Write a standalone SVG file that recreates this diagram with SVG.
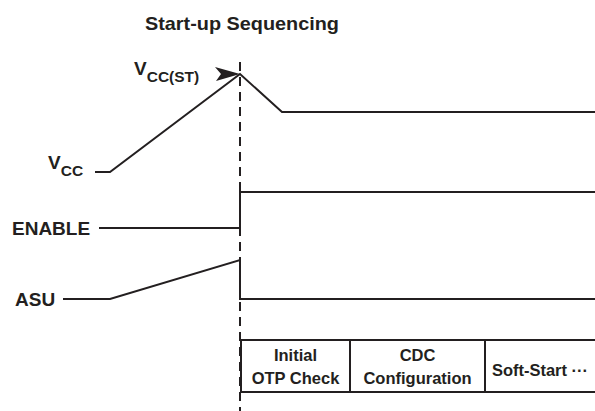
<svg xmlns="http://www.w3.org/2000/svg" width="595" height="411" viewBox="0 0 595 411">
<defs>
<style>
.t{font-family:"Liberation Sans",Arial,sans-serif;font-weight:bold;fill:#231f20}
.lbl{font-size:19px}
.sub{font-size:15.5px}
.box{font-size:16.5px;text-anchor:middle}
.w{fill:none;stroke:#231f20;stroke-width:2;stroke-linejoin:miter}
.d{fill:none;stroke:#231f20;stroke-width:2;stroke-dasharray:9 6}
</style>
</defs>
<rect width="595" height="411" fill="#fff"/>
<g id="title"><text class="t" x="145" y="30" font-size="19" textLength="194" lengthAdjust="spacingAndGlyphs">Start-up Sequencing</text></g>
<g id="connectors">
<line id="marker-line" class="d" x1="240" y1="62" x2="240" y2="411"/>
<polyline id="vcc-wave" class="w" points="95,172 110,172 240,74 282,112 595,112"/>
<polyline id="enable-wave" class="w" points="99,228 240,228 240,192 595,192"/>
<polyline id="asu-wave" class="w" points="63,299 110,299 240,260 240,299 595,299"/>
<path id="vccst-arrow" d="M240,74 L215,67 L221,74 L216,81 Z" fill="#231f20"/>
</g>
<g id="vcc-st-label"><text class="t lbl" x="134" y="75">V<tspan class="sub" dy="7">CC(ST)</tspan></text></g>
<g id="vcc-label"><text class="t lbl" x="48" y="169">V<tspan class="sub" dy="7">CC</tspan></text></g>
<g id="enable-label"><text class="t lbl" x="12" y="235">ENABLE</text></g>
<g id="asu-label"><text class="t lbl" x="15" y="306">ASU</text></g>
<g id="phases">
<line class="w" x1="240" y1="340" x2="595" y2="340"/>
<line class="w" x1="240" y1="392" x2="595" y2="392"/>
<line class="w" x1="241" y1="339" x2="241" y2="393"/>
<g id="phase-otp"><text class="t box" x="295.5" y="361">Initial</text><text class="t box" x="295.5" y="384">OTP Check</text></g>
<line class="w" x1="350" y1="340" x2="350" y2="392"/>
<g id="phase-cdc"><text class="t box" x="417.5" y="361">CDC</text><text class="t box" x="417.5" y="384">Configuration</text></g>
<line class="w" x1="485" y1="340" x2="485" y2="392"/>
<g id="phase-softstart"><text class="t box" x="540" y="376">Soft-Start ···</text></g>
</g>
</svg>
